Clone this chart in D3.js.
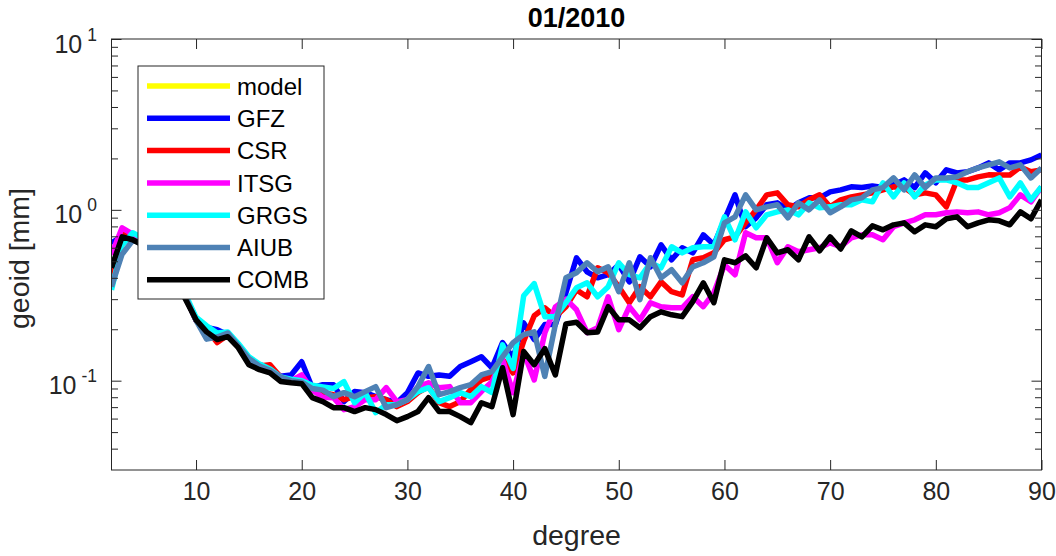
<!DOCTYPE html>
<html><head><meta charset="utf-8">
<script src="https://cdn.jsdelivr.net/npm/d3@7"></script>
<style>
body{margin:0;background:#fff;}
svg{display:block;font-family:"Liberation Sans",Arial,Helvetica,sans-serif;}
</style>
</head><body>
<svg id="chart" width="1056" height="556"></svg>
<script>
// ---------------- data ----------------
const degrees = [2,3,4,5,6,7,8,9,10,11,12,13,14,15,16,17,18,19,20,21,22,23,24,25,26,27,28,29,30,31,32,33,34,35,36,37,38,39,40,41,42,43,44,45,46,47,48,49,50,51,52,53,54,55,56,57,58,59,60,61,62,63,64,65,66,67,68,69,70,71,72,73,74,75,76,77,78,79,80,81,82,83,84,85,86,87,88,89,90];
const model = [];
const gfz = [0.641,0.70,0.68,0.63,0.57,0.50,0.41,0.31,0.225,
 0.205,0.199,0.186,0.158,0.133,0.124,0.119,0.106,0.108,0.129,
 0.091,0.0948,0.0948,0.0754,0.0863,0.0851,0.0806,0.0774,0.0743,0.085,
 0.111,0.106,0.108,0.106,0.121,0.129,0.138,0.119,0.167,0.136,
 0.218,0.174,0.213,0.213,0.327,0.524,0.434,0.40,0.417,0.477,
 0.379,0.531,0.464,0.624,0.51,0.60,0.56,0.714,0.624,0.874,
 1.224,0.796,0.898,1.07,1.099,1.0,1.099,1.175,1.175,1.274,
 1.309,1.363,1.35,1.38,1.35,1.40,1.497,1.35,1.646,1.439,
 1.714,1.646,1.67,1.76,1.883,1.714,1.883,1.883,1.961,2.097];
const csr = [0.417,0.72,0.69,0.63,0.57,0.50,0.41,0.31,0.225,
 0.20,0.167,0.185,0.16,0.135,0.122,0.124,0.105,0.10,0.10,
 0.089,0.085,0.0828,0.0774,0.0806,0.0795,0.0806,0.0774,0.0705,0.0754,
 0.0851,0.0923,0.0743,0.0705,0.0754,0.0886,0.101,0.106,0.133,0.111,
 0.17,0.24,0.267,0.237,0.271,0.34,0.31,0.458,0.428,0.355,
 0.286,0.355,0.31,0.379,0.332,0.318,0.51,0.524,0.56,0.668,
 0.695,0.839,1.0,1.224,1.257,1.07,1.041,1.144,1.224,1.041,
 1.144,1.191,1.224,1.257,1.309,1.363,1.35,1.224,1.257,1.224,
 1.041,1.497,1.497,1.56,1.602,1.60,1.60,1.78,1.67,1.714];
const itsg = [0.545,0.785,0.72,0.65,0.58,0.50,0.41,0.31,0.23,
 0.20,0.18,0.185,0.16,0.13,0.12,0.115,0.105,0.10,0.108,
 0.088,0.08,0.0795,0.0677,0.0705,0.0774,0.0774,0.091,0.0754,0.0774,
 0.0923,0.0973,0.091,0.0923,0.0743,0.0743,0.0863,0.0987,0.133,0.0851,
 0.146,0.101,0.19,0.27,0.30,0.26,0.191,0.204,0.31,0.199,
 0.271,0.227,0.286,0.271,0.267,0.267,0.31,0.271,0.327,0.477,
 0.417,0.734,0.686,0.686,0.49,0.608,0.568,0.584,0.60,0.641,
 0.608,0.686,0.714,0.714,0.668,0.796,0.839,0.874,0.935,0.935,
 0.961,0.973,0.961,0.973,0.935,0.961,1.03,1.224,1.114,1.363];
const grgs = [0.34,0.62,0.734,0.68,0.60,0.52,0.42,0.32,0.235,
 0.21,0.19,0.193,0.165,0.138,0.125,0.117,0.105,0.102,0.10,
 0.094,0.092,0.09,0.0987,0.0743,0.0851,0.065,0.0724,0.0724,0.0774,
 0.0863,0.091,0.0754,0.0795,0.0851,0.0806,0.0923,0.0851,0.162,0.118,
 0.314,0.37,0.237,0.237,0.286,0.35,0.374,0.31,0.355,0.49,
 0.417,0.40,0.49,0.458,0.608,0.56,0.60,0.608,0.608,0.91,
 0.668,0.973,0.785,0.935,0.973,1.0,0.935,1.099,1.03,1.041,
 1.07,1.07,1.144,1.114,1.439,1.191,1.439,1.191,1.40,1.497,
 1.497,1.439,1.35,1.35,1.439,1.538,1.191,1.439,1.144,1.363];
const aiub = [0.355,0.55,0.66,0.64,0.58,0.51,0.42,0.31,0.225,
 0.175,0.18,0.19,0.16,0.135,0.122,0.115,0.105,0.10,0.098,
 0.09,0.088,0.0806,0.0851,0.0806,0.0863,0.0923,0.0695,0.0724,0.0774,
 0.0923,0.121,0.0828,0.0863,0.091,0.0948,0.108,0.113,0.138,0.167,
 0.186,0.193,0.106,0.213,0.40,0.428,0.49,0.434,0.464,0.332,
 0.49,0.298,0.524,0.40,0.446,0.374,0.464,0.49,0.531,0.839,
 0.91,1.224,1.0,1.041,1.07,0.898,1.099,1.0,1.144,0.961,
 1.041,1.144,1.175,1.309,1.35,1.538,1.309,1.602,1.35,1.538,
 1.538,1.56,1.67,1.76,1.833,1.909,1.76,1.833,1.538,1.76];
const comb = [0.458,0.695,0.668,0.62,0.56,0.49,0.40,0.30,0.227,
 0.193,0.174,0.181,0.156,0.124,0.116,0.111,0.099,0.0973,0.096,
 0.0795,0.0754,0.0695,0.0695,0.0659,0.0695,0.0677,0.0633,0.0583,0.0616,
 0.066,0.0795,0.066,0.066,0.0616,0.0568,0.0743,0.0705,0.119,0.0633,
 0.148,0.124,0.154,0.108,0.215,0.22,0.191,0.193,0.271,0.227,
 0.227,0.204,0.237,0.253,0.243,0.237,0.29,0.374,0.286,0.51,
 0.49,0.538,0.458,0.686,0.56,0.584,0.51,0.695,0.576,0.695,
 0.59,0.754,0.695,0.806,0.764,0.817,0.839,0.744,0.817,0.796,
 0.886,0.91,0.796,0.839,0.874,0.862,0.817,0.973,0.886,1.144];

const seriesNames = ["model","GFZ","CSR","ITSG","GRGS","AIUB","COMB"];
const seriesValues = [model,gfz,csr,itsg,grgs,aiub,comb];
const seriesColors = ["#ffff00","#0000ff","#ff0000","#ff00ff","#00ffff","#4f82b5","#000000"];
const xTickValues = [10,20,30,40,50,60,70,80,90];
const yMajorTicks = [0.1,1,10];
const yTickExponents = ["-1","0","1"];
const yMinorTicks = [0.04,0.05,0.06,0.07,0.08,0.09,0.2,0.3,0.4,0.5,0.6,0.7,0.8,0.9,2,3,4,5,6,7,8,9];
const titleText = "01/2010";
const xLabelText = "degree";
const yLabelText = "geoid [mm]";

// ---------------- layout ----------------
const box = {left:111.5, right:1041.5, top:39, bottom:470};
const axisColor = "#262626";
const svg = d3.select("#chart");

const x = d3.scaleLinear().domain([2,90]).range([box.left, box.right]);
const y = d3.scaleLog().domain([0.03,10]).range([box.bottom, box.top]);

// clip
svg.append("defs").append("clipPath").attr("id","clip")
  .append("rect").attr("x",box.left).attr("y",box.top)
  .attr("width",box.right-box.left).attr("height",box.bottom-box.top);

// data lines
const line = d3.line().x((d,i)=>x(degrees[i])).y(d=>y(d));
const gLines = svg.append("g").attr("clip-path","url(#clip)");
seriesValues.forEach((vals,k)=>{
  if(!vals.length) return;
  gLines.append("path").datum(vals)
    .attr("d",line).attr("fill","none")
    .attr("stroke",seriesColors[k]).attr("stroke-width",5.5)
    .attr("stroke-linejoin","round").attr("stroke-linecap","butt");
});

// axes
function styleAxis(g){
  g.select(".domain").remove();
  g.selectAll(".tick line").attr("stroke",axisColor).attr("stroke-width",1);
  g.selectAll(".tick text").attr("fill",axisColor);
}
svg.append("g").attr("transform",`translate(0,${box.bottom})`)
  .call(d3.axisBottom(x).tickValues(xTickValues).tickSizeInner(-10).tickSizeOuter(0).tickPadding(12).tickFormat(d3.format("d")))
  .call(styleAxis)
  .selectAll("text").attr("font-size",25).attr("font-family","Liberation Sans, Arial, sans-serif");
svg.append("g").attr("transform",`translate(0,${box.top})`)
  .call(d3.axisTop(x).tickValues(xTickValues).tickSizeInner(-10).tickSizeOuter(0).tickFormat(""))
  .call(styleAxis);
svg.append("g").attr("transform",`translate(${box.left},0)`)
  .call(d3.axisLeft(y).tickValues(yMajorTicks).tickSizeInner(-10).tickSizeOuter(0).tickFormat(""))
  .call(styleAxis);
svg.append("g").attr("transform",`translate(${box.left},0)`)
  .call(d3.axisLeft(y).tickValues(yMinorTicks).tickSizeInner(-6.5).tickSizeOuter(0).tickFormat(""))
  .call(styleAxis);
svg.append("g").attr("transform",`translate(${box.right},0)`)
  .call(d3.axisRight(y).tickValues(yMajorTicks).tickSizeInner(-10).tickSizeOuter(0).tickFormat(""))
  .call(styleAxis);
svg.append("g").attr("transform",`translate(${box.right},0)`)
  .call(d3.axisRight(y).tickValues(yMinorTicks).tickSizeInner(-6.5).tickSizeOuter(0).tickFormat(""))
  .call(styleAxis);

// y tick labels 10^n
yMajorTicks.forEach((v,i)=>{
  const t = svg.append("text").attr("x",97).attr("y",y(v)+13.5)
    .attr("text-anchor","end").attr("fill",axisColor).attr("font-size",25);
  t.append("tspan").text("10");
  t.append("tspan").attr("dx",5).attr("dy",-12).attr("font-size",17.5).text(yTickExponents[i]);
});

// box
svg.append("rect").attr("x",box.left).attr("y",box.top)
  .attr("width",box.right-box.left).attr("height",box.bottom-box.top)
  .attr("fill","none").attr("stroke",axisColor).attr("stroke-width",1);

// title & labels
svg.append("text").attr("x",(box.left+box.right)/2).attr("y",27)
  .attr("text-anchor","middle").attr("font-weight","bold").attr("font-size",27)
  .attr("fill","#000").text(titleText);
svg.append("text").attr("x",(box.left+box.right)/2).attr("y",545)
  .attr("text-anchor","middle").attr("font-size",28.5).attr("fill",axisColor).text(xLabelText);
svg.append("text").attr("transform",`translate(29,${(box.top+box.bottom)/2 + 4}) rotate(-90)`)
  .attr("text-anchor","middle").attr("font-size",28.5).attr("fill",axisColor).text(yLabelText);

// legend
const lg = svg.append("g");
lg.append("rect").attr("x",138).attr("y",66).attr("width",186).attr("height",233)
  .attr("fill","#fff").attr("stroke",axisColor).attr("stroke-width",1);
seriesNames.forEach((name,k)=>{
  const cy = 86 + k*32.3;
  lg.append("line").attr("x1",147).attr("x2",230).attr("y1",cy).attr("y2",cy)
    .attr("stroke",seriesColors[k]).attr("stroke-width",5.5);
  lg.append("text").attr("x",237).attr("y",cy).attr("dy","0.36em")
    .attr("font-size",24).attr("fill","#000").text(name);
});
</script>
</body></html>
